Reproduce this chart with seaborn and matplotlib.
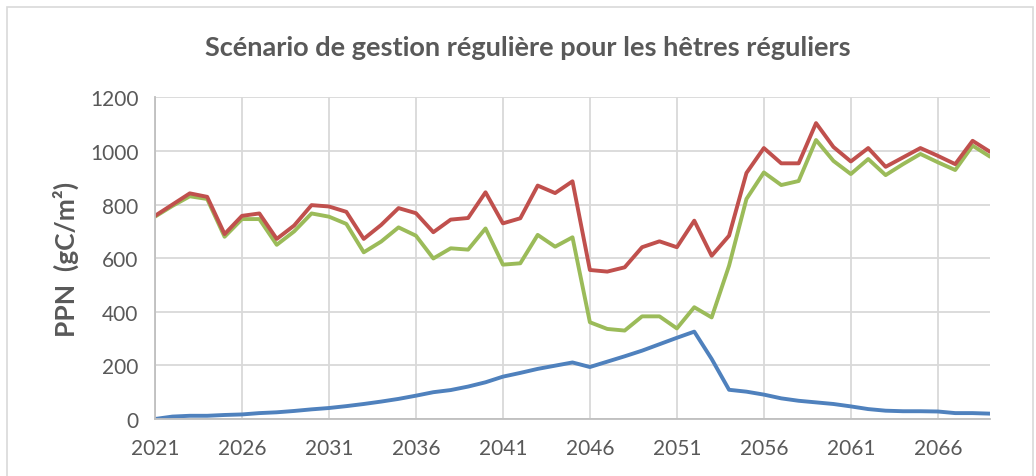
import matplotlib
matplotlib.use('Agg')
import matplotlib.pyplot as plt
import seaborn as sns
import pandas as pd
from matplotlib.patches import Rectangle

# Years on the x axis
years = list(range(2021, 2070))

# Series values (gC/m2)
ppn_rouge = [758, 800, 842, 829, 690, 758, 767, 672, 722, 798,
             793, 773, 672, 724, 787, 768, 697, 744, 750, 846,
             730, 749, 871, 843, 887, 556, 550, 566, 641, 663,
             641, 740, 609, 684, 918, 1011, 954, 954, 1104, 1015,
             961, 1011, 941, 976, 1011, 982, 951, 1038, 997]
ppn_vert = [755, 795, 831, 821, 680, 746, 746, 650, 700, 767,
            755, 728, 622, 662, 715, 684, 599, 637, 632, 711,
            576, 581, 687, 643, 678, 361, 336, 330, 383, 383,
            338, 417, 379, 572, 821, 920, 873, 888, 1041, 963,
            914, 970, 910, 951, 989, 958, 929, 1020, 979]
ppn_bleu = [0, 9, 12, 12, 15, 17, 22, 25, 30, 36,
            41, 48, 56, 65, 75, 87, 100, 108, 121, 137,
            158, 172, 187, 199, 211, 194, 214, 234, 255, 279,
            303, 326, 224, 109, 102, 91, 77, 68, 62, 56,
            47, 37, 31, 29, 29, 28, 22, 22, 20]

x_ticks = list(range(2021, 2070, 5))
y_ticks = [0, 200, 400, 600, 800, 1000, 1200]

# Long format table for seaborn
df = pd.concat([
    pd.DataFrame({'annee': years, 'ppn': ppn_bleu, 'serie': 'bleu'}),
    pd.DataFrame({'annee': years, 'ppn': ppn_vert, 'serie': 'vert'}),
    pd.DataFrame({'annee': years, 'ppn': ppn_rouge, 'serie': 'rouge'}),
])

sns.set_style('white')
plt.rcParams['font.family'] = ['Lato', 'DejaVu Sans']

fig = plt.figure(figsize=(10.36, 4.77), dpi=100)
ax = fig.add_axes([0.1496, 0.1195, 0.8060, 0.6742])

palette = {'bleu': '#4F81BD', 'vert': '#9BBB59', 'rouge': '#C0504D'}
sns.lineplot(data=df, x='annee', y='ppn', hue='serie', hue_order=['bleu', 'vert', 'rouge'],
             palette=palette, linewidth=2.8, legend=False, ax=ax)

ax.set_xlim(2021, 2069)
ax.set_ylim(0, 1200)
ax.set_xticks(x_ticks)
ax.set_yticks(y_ticks)
ax.grid(True, color='#D9D9D9', linewidth=1.3)
ax.set_axisbelow(True)

for side in ['top', 'right']:
    ax.spines[side].set_visible(False)
ax.spines['left'].set_color('#BFBFBF')
ax.spines['bottom'].set_color('#BFBFBF')
ax.spines['left'].set_linewidth(1.3)
ax.spines['bottom'].set_linewidth(1.3)

ax.tick_params(axis='both', length=0, labelsize=15, labelcolor='#595959')
ax.tick_params(axis='x', pad=14)
ax.tick_params(axis='y', pad=12)

ax.set_xlabel('')
ax.set_ylabel('PPN  (gC/m²)', fontsize=19, fontweight='bold', color='#595959', labelpad=8)

fig.text(0.509, 0.90, 'Scénario de gestion régulière pour les hêtres réguliers',
         ha='center', va='center', fontsize=19.5, fontweight='bold', color='#595959')

# Light border around the chart area
fig.patches.append(Rectangle((0.007, -0.1), 0.99, 1.083, transform=fig.transFigure,
                             fill=False, edgecolor='#D9D9D9', linewidth=1.2))

fig.savefig('out.png', dpi=100)
